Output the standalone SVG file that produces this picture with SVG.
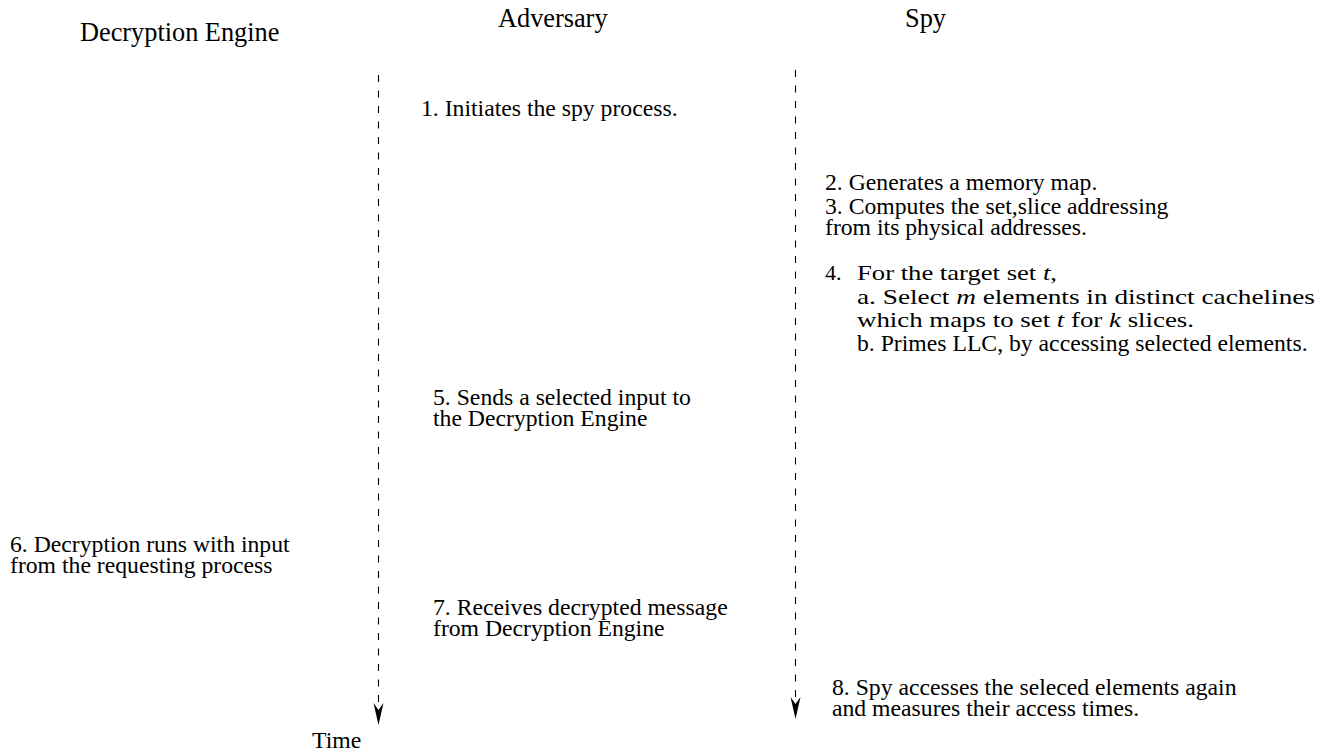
<svg xmlns="http://www.w3.org/2000/svg" width="1321" height="753" viewBox="0 0 1321 753">
  <style>
    .t { font-family: "Liberation Serif", "Times New Roman", serif; font-size: 23.7px; fill: #000; }
    .h { font-family: "Liberation Serif", "Times New Roman", serif; font-size: 26.3px; fill: #000; }
    .cm { font-family: "Liberation Serif", "Times New Roman", serif; font-size: 22px; fill: #000; }
    .life { stroke: #000; stroke-width: 1.1; stroke-dasharray: 7 8.5; fill: none; }
    .head { fill: #000; stroke: none; }
  </style>

  <!-- column headings -->
  <g id="hdr-engine"><text class="h" x="80" y="41">Decryption Engine</text></g>
  <g id="hdr-adversary"><text class="h" x="498" y="27">Adversary</text></g>
  <g id="hdr-spy"><text class="h" x="905" y="27">Spy</text></g>

  <!-- time lines with notched arrowheads -->
  <g id="connectors">
    <line class="life" x1="378.5" y1="75" x2="378.5" y2="710"/>
    <path class="head" d="M378.5,725 L373.5,703 L378.5,710 L383.5,703 Z"/>
    <line class="life" x1="795.5" y1="70" x2="795.5" y2="704"/>
    <path class="head" d="M795.5,719 L790.5,697 L795.5,704 L800.5,697 Z"/>
  </g>
  <g id="time-label"><text class="t" x="312" y="748">Time</text></g>

  <!-- adversary steps -->
  <g id="step1"><text class="t" x="421" y="116">1. Initiates the spy process.</text></g>
  <g id="step5">
    <text class="t" x="433" y="405">5. Sends a selected input to</text>
    <text class="t" x="433" y="426">the Decryption Engine</text>
  </g>
  <g id="step7">
    <text class="t" x="433" y="615">7. Receives decrypted message</text>
    <text class="t" x="433" y="636">from Decryption Engine</text>
  </g>

  <!-- decryption engine step -->
  <g id="step6">
    <text class="t" x="10" y="552">6. Decryption runs with input</text>
    <text class="t" x="10" y="573">from the requesting process</text>
  </g>

  <!-- spy steps -->
  <g id="step2"><text class="t" x="825" y="190">2. Generates a memory map.</text></g>
  <g id="step3">
    <text class="t" x="825" y="214">3. Computes the set,slice addressing</text>
    <text class="t" x="825" y="235">from its physical addresses.</text>
  </g>
  <g id="step4">
    <text class="cm" x="825" y="280">4.</text>
    <text class="cm" x="857" y="280" textLength="200" lengthAdjust="spacingAndGlyphs">For the target set <tspan font-style="italic">t</tspan>,</text>
    <text class="cm" x="857" y="304" textLength="458" lengthAdjust="spacingAndGlyphs">a. Select <tspan font-style="italic">m</tspan> elements in distinct cachelines</text>
    <text class="cm" x="857" y="327" textLength="337" lengthAdjust="spacingAndGlyphs">which maps to set <tspan font-style="italic">t</tspan> for <tspan font-style="italic">k</tspan> slices.</text>
    <text class="t" x="857" y="351">b. Primes LLC, by accessing selected elements.</text>
  </g>
  <g id="step8">
    <text class="t" x="832" y="695">8. Spy accesses the seleced elements again</text>
    <text class="t" x="832" y="716">and measures their access times.</text>
  </g>
</svg>
